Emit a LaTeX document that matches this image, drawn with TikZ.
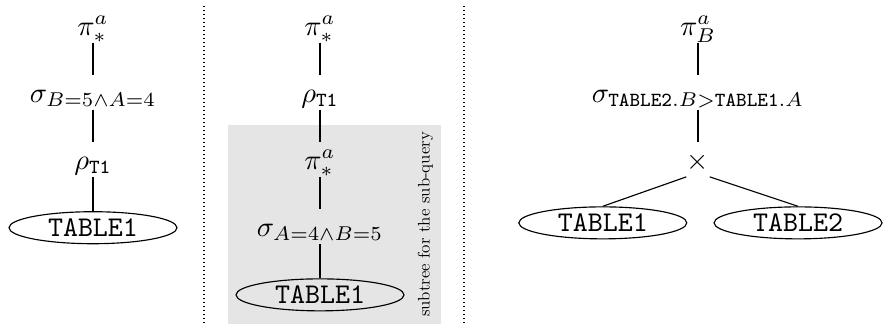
\documentclass[tikz,border=0pt]{standalone}
\usetikzlibrary{positioning,fit,backgrounds,shapes.geometric}

\begin{document}
\begin{tikzpicture}[x=0.35pt,y=0.35pt,
  op/.style={inner sep=0pt,text height=9.45pt,text depth=2.45pt},
  tab/.style={ellipse,draw=black,inner sep=0pt,minimum width=58.8pt,minimum height=11.2pt,font=\ttfamily},
  subbox/.style={rectangle,fill=gray!20,inner sep=2.5pt},
  note/.style={rotate=90,scale=0.586,inner sep=0pt},
  sep/.style={densely dotted},
  node distance=11.2pt
]
\useasboundingbox (0,0) rectangle (893,-325);
% left tree
\node[op] (lpi) at (93,-25) {$\pi^a_*$};
\node[op,below=of lpi] (lsig) {$\sigma_{B=5\wedge A=4}$};
\node[op,below=of lsig] (lrho) {$\rho_{\mathtt{T1}}$};
\node[tab,below=12pt of lrho] (ltab) {TABLE1};
\draw (lpi) -- (lsig);
\draw (lsig) -- (lrho);
\draw (lrho) -- (ltab);
% middle tree
\node[op] (mpi) at (320,-25) {$\pi^a_*$};
\node[op,below=of mpi] (mrho) {$\rho_{\mathtt{T1}}$};
\node[op,below=of mrho] (mpisub) {$\pi^a_*$};
\node[op,below=of mpisub] (msig) {$\sigma_{A=4\wedge B=5}$};
\node[tab,below=12pt of msig] (mtab) {TABLE1};
\node[note] (sublabel) at (425.5,-224.5) {subtree for the sub-query};
\begin{scope}[on background layer]
\node[subbox,fit=(mtab)(sublabel)] (subtree) {};
\end{scope}
\draw (mpi) -- (mrho);
\draw (mrho) -- (mpisub);
\draw (mpisub) -- (msig);
\draw (msig) -- (mtab);
% right tree
\node[op] (rpi) at (698,-25) {$\pi^a_B$};
\node[op,below=of rpi] (rsig) {$\sigma_{\mathtt{TABLE2.}B>\mathtt{TABLE1.}A}$};
\node[op,below=of rsig] (rtimes) {$\times$};
\node[tab,below left=12pt and 8.3pt of rtimes] (rtab1) {TABLE1};
\node[tab,below right=12pt and 10pt of rtimes] (rtab2) {TABLE2};
\draw (rpi) -- (rsig);
\draw (rsig) -- (rtimes);
\draw (rtimes.south west) -- (rtab1.north);
\draw (rtimes.south east) -- (rtab2.north);
% separators
\draw[sep] (204,-6) -- (204,-325);
\draw[sep] (464,-6) -- (464,-325);
\end{tikzpicture}
\end{document}
